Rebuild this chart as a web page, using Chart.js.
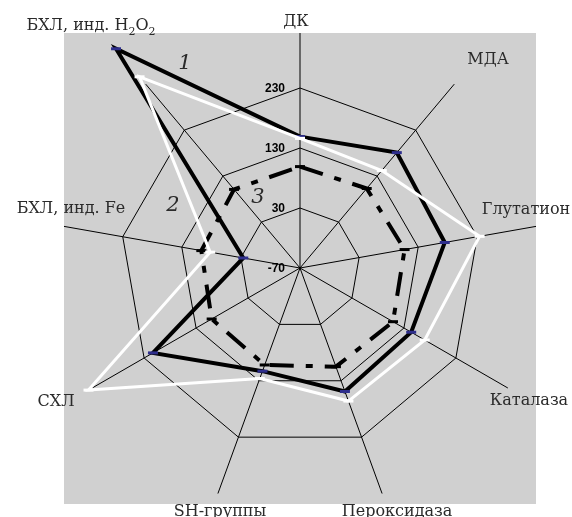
<!DOCTYPE html>
<html>
<head>
<meta charset="utf-8">
<script src="https://cdn.jsdelivr.net/npm/chart.js@4.4.1/dist/chart.umd.min.js"></script>
<style>
  html, body { margin: 0; padding: 0; background: #fff; }
</style>
</head>
<body>
<canvas id="radar" width="572" height="517"></canvas>
<script>
// axes, clockwise from the top
const categories = ['ДК', 'МДА', 'Глутатион', 'Каталаза', 'Пероксидаза', 'SH-группы', 'СХЛ', 'БХЛ, инд. Fe', 'БХЛ, инд. H₂O₂'];
// values
const series1 = [149, 181, 175, 144, 149, 113, 213, 26, 407];
const series2 = [146, 142, 234, 170, 166, 126, 337, 82, 346];
const series3 = [99, 103, 107, 109, 105, 102, 100, 97, 101];
const seriesNames = ['1', '2', '3'];
const tickValues = [-70, 30, 130, 230];
const axisMin = -70;
const axisMax = 330;

// where the axis names sit (centre x, baseline y) and the curve numbers
const labelSpots = [[296, 26], [488, 64], [526, 214], [529, 405], [397, 516], [220, 516], [56, 406], [71, 213], [91, 30]];
const nameSpots = [[185, 69], [173, 211], [258, 203]];

const textColor = '#2a2a2a';
const labelFont = '16px "DejaVu Serif", serif';
const subFont = '11px "DejaVu Serif", serif';

// draws a name, turning ₂ into a small lowered 2
function drawName(ctx, text, cx, y) {
  const parts = Array.from(text).map(ch => ch === '₂' ? { t: '2', sub: true } : { t: ch, sub: false });
  let width = 0;
  parts.forEach(p => {
    ctx.font = p.sub ? subFont : labelFont;
    p.w = ctx.measureText(p.t).width;
    width += p.w;
  });
  let x = cx - width / 2;
  ctx.textAlign = 'left';
  parts.forEach(p => {
    ctx.font = p.sub ? subFont : labelFont;
    ctx.fillText(p.t, x, p.sub ? y + 5 : y);
    x += p.w;
  });
}

const decor = {
  id: 'decor',
  beforeDraw(chart) {
    const ctx = chart.ctx;
    const s = chart.scales.r;
    ctx.save();
    ctx.fillStyle = '#fff';
    ctx.fillRect(0, 0, chart.width, chart.height);
    ctx.fillStyle = '#d0d0d0';
    ctx.fillRect(s.xCenter - 236, s.yCenter - 235, 472, 471);
    // keep the spokes inside the grey panel
    ctx.beginPath();
    ctx.rect(s.xCenter - 236, s.yCenter - 235, 472, 471);
    ctx.clip();
  },
  afterDatasetsDraw(chart) {
    chart.ctx.restore();
  },
  afterDraw(chart) {
    const ctx = chart.ctx;
    const s = chart.scales.r;
    ctx.save();
    // tick numbers
    ctx.font = 'bold 12px "Liberation Sans", Arial, sans-serif';
    ctx.fillStyle = '#000';
    ctx.textAlign = 'right';
    ctx.textBaseline = 'middle';
    tickValues.forEach(v => {
      ctx.fillText(String(v), s.xCenter - 15, s.yCenter - s.getDistanceFromCenterForValue(v) + 1);
    });
    // axis names
    ctx.fillStyle = textColor;
    ctx.textBaseline = 'alphabetic';
    categories.forEach((name, i) => {
      const [x, y] = labelSpots[i];
      drawName(ctx, name, x, y);
    });
    // curve numbers
    ctx.font = 'italic 21px "DejaVu Serif", serif';
    ctx.textAlign = 'center';
    seriesNames.forEach((n, i) => {
      const [x, y] = nameSpots[i];
      ctx.fillText(n, x, y);
    });
    ctx.restore();
  }
};

new Chart(document.getElementById('radar'), {
  type: 'radar',
  data: {
    labels: categories,
    datasets: [
      {
        label: seriesNames[0],
        data: series1,
        order: 1,
        fill: false,
        borderColor: '#000',
        borderWidth: 4,
        pointStyle: 'line',
        pointRadius: 5,
        pointBorderWidth: 3,
        pointBorderColor: '#2e2e8c',
        pointBackgroundColor: '#2e2e8c'
      },
      {
        label: seriesNames[1],
        data: series2,
        order: 0,
        fill: false,
        borderColor: '#fff',
        borderWidth: 3,
        pointStyle: 'line',
        pointRadius: 5,
        pointBorderWidth: 3,
        pointBorderColor: '#fff'
      },
      {
        label: seriesNames[2],
        data: series3,
        order: 2,
        fill: false,
        borderColor: '#000',
        borderWidth: 4,
        borderDash: [24, 12, 7, 12],
        pointStyle: 'line',
        pointRadius: 5,
        pointBorderWidth: 3,
        pointBorderColor: '#000'
      }
    ]
  },
  options: {
    responsive: false,
    animation: false,
    layout: { padding: { left: 60, right: 32, top: 28, bottom: 9 } },
    plugins: {
      legend: { display: false },
      tooltip: { enabled: false }
    },
    elements: { line: { tension: 0 } },
    scales: {
      r: {
        min: axisMin,
        max: axisMax,
        beginAtZero: false,
        ticks: { stepSize: 100, display: false },
        pointLabels: { display: false },
        angleLines: { color: '#000', lineWidth: 1 },
        grid: {
          color: c => (c.tick && c.tick.value >= axisMax) ? 'rgba(0,0,0,0)' : '#000',
          lineWidth: 1
        }
      }
    }
  },
  plugins: [decor]
});
</script>
</body>
</html>
